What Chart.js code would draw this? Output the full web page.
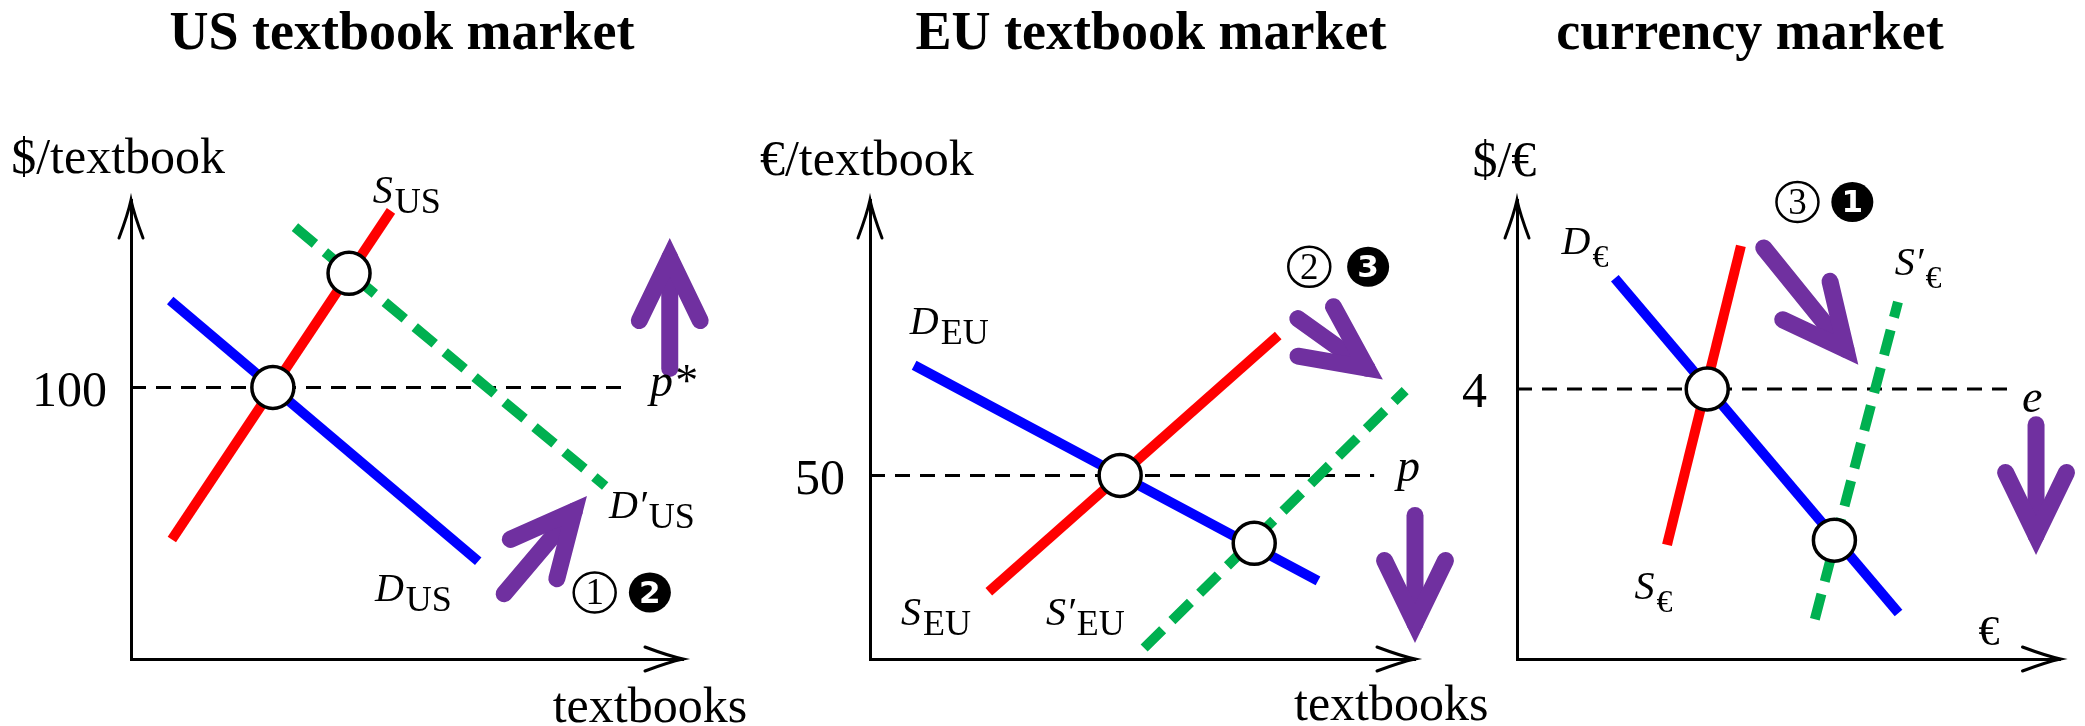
<!DOCTYPE html>
<html lang="en">
<head>
  <meta charset="UTF-8">
  <title>US / EU textbook markets and currency market</title>
  <script src="https://cdn.jsdelivr.net/npm/chart.js"></script>
  <style>
    body { margin: 0; background: #fff; }
    .wrap { position: relative; width: 2085px; height: 726px; overflow: hidden; }
    canvas { position: absolute; top: 0; }
  </style>
</head>
<body>
  <div class="wrap">
    <canvas id="usChart" width="780" height="726" style="left:0px"></canvas>
    <canvas id="euChart" width="800" height="726" style="left:700px"></canvas>
    <canvas id="fxChart" width="645" height="726" style="left:1440px"></canvas>
  </div>

  <script>
    // ---- US textbook market (x: textbooks, y: $/textbook)
    const usPrice = 100;
    const usDemand = [[0.71, 132], [6.29, 36]];
    const usSupply = [[0.74, 44], [4.71, 165]];
    const usDemandNew = [[2.97, 159], [8.59, 63.7]];
    const usEquilibria = [[2.57, 100], [3.95, 142]];
    const usPriceLine = [[0, 100], [9.02, 100]];
    const usArrows = [[[9.76, 107], [9.76, 155]], [[6.76, 24], [8.26, 60]]];

    // ---- EU textbook market (x: textbooks, y: €/textbook)
    const euPrice = 50;
    const euDemand = [[0.81, 80], [8.22, 21.3]];
    const euSupply = [[2.18, 18.3], [7.49, 88.1]];
    const euSupplyNew = [[5.03, 3.0], [9.82, 73.1]];
    const euEquilibria = [[4.59, 50], [7.05, 31.5]];
    const euPriceLine = [[0, 50], [9.25, 50]];
    const euArrows = [[[7.85, 92.7], [9.41, 76.1]], [[10.0, 39.1], [10.0, 4.35]]];

    // ---- currency market (x: €, y: $/€)
    const fxRate = 4;
    const fxDemand = [[1.80, 5.64], [7.02, 0.68]];
    const fxSupply = [[2.76, 1.69], [4.12, 6.12]];
    const fxSupplyNew = [[5.48, 0.59], [7.01, 5.29]];
    const fxEquilibria = [[3.5, 4], [5.84, 1.76]];
    const fxRateLine = [[0, 4], [9.06, 4]];
    const fxArrows = [[[4.54, 6.09], [6.28, 4.36]], [[9.55, 3.47], [9.55, 1.54]]];

    const serif = '"Liberation Serif", "Times New Roman", serif';
    const BLUE = '#0000ff', RED = '#ff0000', GREEN = '#00b050', PURPLE = '#7030a0';

    const pts = arr => arr.map(([x, y]) => ({ x, y }));

    // thin black arrow head at the end of an axis
    function axisHead(ctx, x, y, ang) {
      ctx.save();
      ctx.translate(x, y);
      ctx.rotate(ang);
      ctx.strokeStyle = '#000';
      ctx.lineWidth = 3;
      ctx.lineCap = 'round';
      ctx.beginPath();
      ctx.moveTo(-38, -12);
      ctx.quadraticCurveTo(-14, -3, 0, 0);
      ctx.quadraticCurveTo(-14, 3, -38, 12);
      ctx.stroke();
      ctx.restore();
    }

    // thick purple arrow
    function drawArrow(ctx, x1, y1, x2, y2) {
      const lw = 17, len = 70, spread = 0.45;
      const ang = Math.atan2(y2 - y1, x2 - x1);
      const back = (lw / 2) / Math.sin(spread);
      const vx = x2 - back * Math.cos(ang), vy = y2 - back * Math.sin(ang);
      ctx.save();
      ctx.strokeStyle = PURPLE;
      ctx.lineWidth = lw;
      ctx.lineCap = 'round';
      ctx.lineJoin = 'miter';
      ctx.miterLimit = 10;
      ctx.beginPath();
      ctx.moveTo(x1, y1);
      ctx.lineTo(vx, vy);
      ctx.stroke();
      ctx.beginPath();
      ctx.moveTo(vx - len * Math.cos(ang - spread), vy - len * Math.sin(ang - spread));
      ctx.lineTo(vx, vy);
      ctx.lineTo(vx - len * Math.cos(ang + spread), vy - len * Math.sin(ang + spread));
      ctx.stroke();
      ctx.restore();
    }

    // circled step numbers (open or filled)
    function drawBadge(ctx, x, y, n, filled) {
      ctx.save();
      ctx.beginPath();
      ctx.ellipse(x, y, 21, 20, 0, 0, 2 * Math.PI);
      if (filled) {
        ctx.fillStyle = '#000';
        ctx.fill();
      } else {
        ctx.fillStyle = '#fff';
        ctx.fill();
        ctx.lineWidth = 2.5;
        ctx.strokeStyle = '#000';
        ctx.stroke();
      }
      ctx.fillStyle = filled ? '#fff' : '#000';
      ctx.font = filled ? 'bold 31px "DejaVu Sans", sans-serif' : '37px ' + serif;
      ctx.textAlign = 'center';
      ctx.textBaseline = 'middle';
      ctx.fillText(n, x, y + 2);
      ctx.restore();
    }

    function drawLabel(ctx, x, y, l) {
      ctx.save();
      ctx.fillStyle = '#000';
      ctx.textAlign = 'left';
      ctx.textBaseline = 'alphabetic';
      if (l.kind === 'axis') {
        ctx.font = '50px ' + serif;
        ctx.fillText(l.text, x, y);
      } else if (l.kind === 'unit') {
        ctx.font = '42px ' + serif;
        ctx.fillText(l.text, x, y);
      } else if (l.kind === 'price') {
        ctx.font = 'italic 46px ' + serif;
        ctx.fillText(l.text, x, y);
      } else {
        ctx.font = 'italic 40px ' + serif;
        ctx.fillText(l.text, x, y);
        const w = ctx.measureText(l.text).width;
        const euro = l.sub === '€';
        ctx.font = (euro ? '32px ' : '36px ') + serif;
        ctx.fillText(l.sub, x + w + 2, y + (euro ? 13 : 10));
      }
      ctx.restore();
    }

    const decorPlugin = {
      id: 'decor',
      afterDraw(chart, args, opts) {
        const ctx = chart.ctx;
        const area = chart.chartArea;
        const px = v => chart.scales.x.getPixelForValue(v);
        const py = v => chart.scales.y.getPixelForValue(v);

        axisHead(ctx, area.left, area.top, -Math.PI / 2);
        axisHead(ctx, area.right, area.bottom, 0);

        ctx.save();
        ctx.fillStyle = '#000';
        ctx.font = 'bold 54px ' + serif;
        ctx.textAlign = 'center';
        ctx.textBaseline = 'alphabetic';
        ctx.fillText(opts.title, opts.titleX, 49);
        ctx.restore();

        opts.arrows.forEach(a => drawArrow(ctx, px(a[0][0]), py(a[0][1]), px(a[1][0]), py(a[1][1])));
        opts.labels.forEach(l => drawLabel(ctx, px(l.x), py(l.y), l));
        opts.badges.forEach(b => drawBadge(ctx, px(b.x), py(b.y), b.n, b.filled));
      }
    };

    function marketChart(id, m) {
      const line = (data, color, dashed) => ({
        data: pts(data),
        showLine: true,
        borderColor: color,
        borderWidth: 10,
        borderDash: dashed ? [26, 13] : [],
        pointRadius: 0,
        clip: false,
        order: 2
      });
      return new Chart(document.getElementById(id), {
        type: 'scatter',
        data: {
          datasets: [
            {
              data: pts(m.equilibria),
              pointRadius: 21,
              pointBackgroundColor: '#fff',
              pointBorderColor: '#000',
              pointBorderWidth: 3.5,
              clip: false,
              order: 0
            },
            {
              data: pts(m.priceLine),
              showLine: true,
              borderColor: '#000',
              borderWidth: 3,
              borderDash: [15, 10],
              pointRadius: 0,
              order: 3
            },
            line(m.demand, BLUE),
            line(m.supply, RED),
            line(m.shifted, GREEN, true)
          ]
        },
        options: {
          responsive: false,
          animation: false,
          events: [],
          layout: { padding: { left: 0, top: 200, right: m.padRight, bottom: 0 } },
          scales: {
            x: {
              type: 'linear',
              min: 0,
              max: 10,
              ticks: { display: false },
              grid: { display: false, drawTicks: false },
              border: { color: '#000', width: 3 },
              afterFit: s => { s.height = 726 - 659; }
            },
            y: {
              type: 'linear',
              min: 0,
              max: m.yMax,
              afterBuildTicks: s => { s.ticks = [{ value: m.tick }]; },
              ticks: {
                color: '#000',
                font: { family: serif, size: 50 },
                padding: m.tickPad,
                labelOffset: 5
              },
              grid: { display: false, drawTicks: false },
              border: { color: '#000', width: 3 },
              afterFit: s => { s.width = m.axisLeft; }
            }
          },
          plugins: {
            legend: { display: false },
            tooltip: { enabled: false },
            decor: {
              title: m.title,
              titleX: m.titleX,
              arrows: m.arrows,
              labels: m.labels,
              badges: m.badges
            }
          }
        },
        plugins: [decorPlugin]
      });
    }

    marketChart('usChart', {
      title: 'US textbook market', titleX: 402,
      axisLeft: 131, padRight: 97, yMax: 169, tick: usPrice, tickPad: 24,
      demand: usDemand, supply: usSupply, shifted: usDemandNew,
      equilibria: usEquilibria, priceLine: usPriceLine, arrows: usArrows,
      labels: [
        { x: -2.17, y: 179, text: '$/textbook', kind: 'axis' },
        { x: 7.64, y: -23.3, text: 'textbooks', kind: 'axis' },
        { x: 4.38, y: 167.8, text: 'S', sub: 'US' },
        { x: 4.42, y: 21.5, text: 'D', sub: 'US' },
        { x: 8.66, y: 51.9, text: 'D\u2032', sub: 'US' },
        { x: 9.4, y: 97, text: 'p*', kind: 'price' }
      ],
      badges: [{ x: 8.4, y: 24.5, n: '1' }, { x: 9.4, y: 24.5, n: '2', filled: true }]
    });

    marketChart('euChart', {
      title: 'EU textbook market', titleX: 451,
      axisLeft: 170, padRight: 85, yMax: 125, tick: euPrice, tickPad: 25,
      demand: euDemand, supply: euSupply, shifted: euSupplyNew,
      equilibria: euEquilibria, priceLine: euPriceLine, arrows: euArrows,
      labels: [
        { x: -2.02, y: 131.8, text: '€/textbook', kind: 'axis' },
        { x: 7.78, y: -16.6, text: 'textbooks', kind: 'axis' },
        { x: 0.73, y: 88.6, text: 'D', sub: 'EU' },
        { x: 0.57, y: 9.2, text: 'S', sub: 'EU' },
        { x: 3.23, y: 9.2, text: 'S\u2032', sub: 'EU' },
        { x: 9.67, y: 48.4, text: 'p', kind: 'price' }
      ],
      badges: [{ x: 8.06, y: 106.8, n: '2' }, { x: 9.14, y: 106.8, n: '3', filled: true }]
    });

    marketChart('fxChart', {
      title: 'currency market', titleX: 310,
      axisLeft: 77, padRight: 17, yMax: 6.8, tick: fxRate, tickPad: 30,
      demand: fxDemand, supply: fxSupply, shifted: fxSupplyNew,
      equilibria: fxEquilibria, priceLine: fxRateLine, arrows: fxArrows,
      labels: [
        { x: -0.82, y: 7.16, text: '$/€', kind: 'axis' },
        { x: 8.49, y: 0.21, text: '€', kind: 'unit' },
        { x: 0.82, y: 6.0, text: 'D', sub: '€' },
        { x: 2.16, y: 0.89, text: 'S', sub: '€' },
        { x: 6.95, y: 5.69, text: 'S\u2032', sub: '€' },
        { x: 9.29, y: 3.66, text: 'e', kind: 'price' }
      ],
      badges: [{ x: 5.16, y: 6.77, n: '3' }, { x: 6.17, y: 6.77, n: '1', filled: true }]
    });
  </script>
</body>
</html>
